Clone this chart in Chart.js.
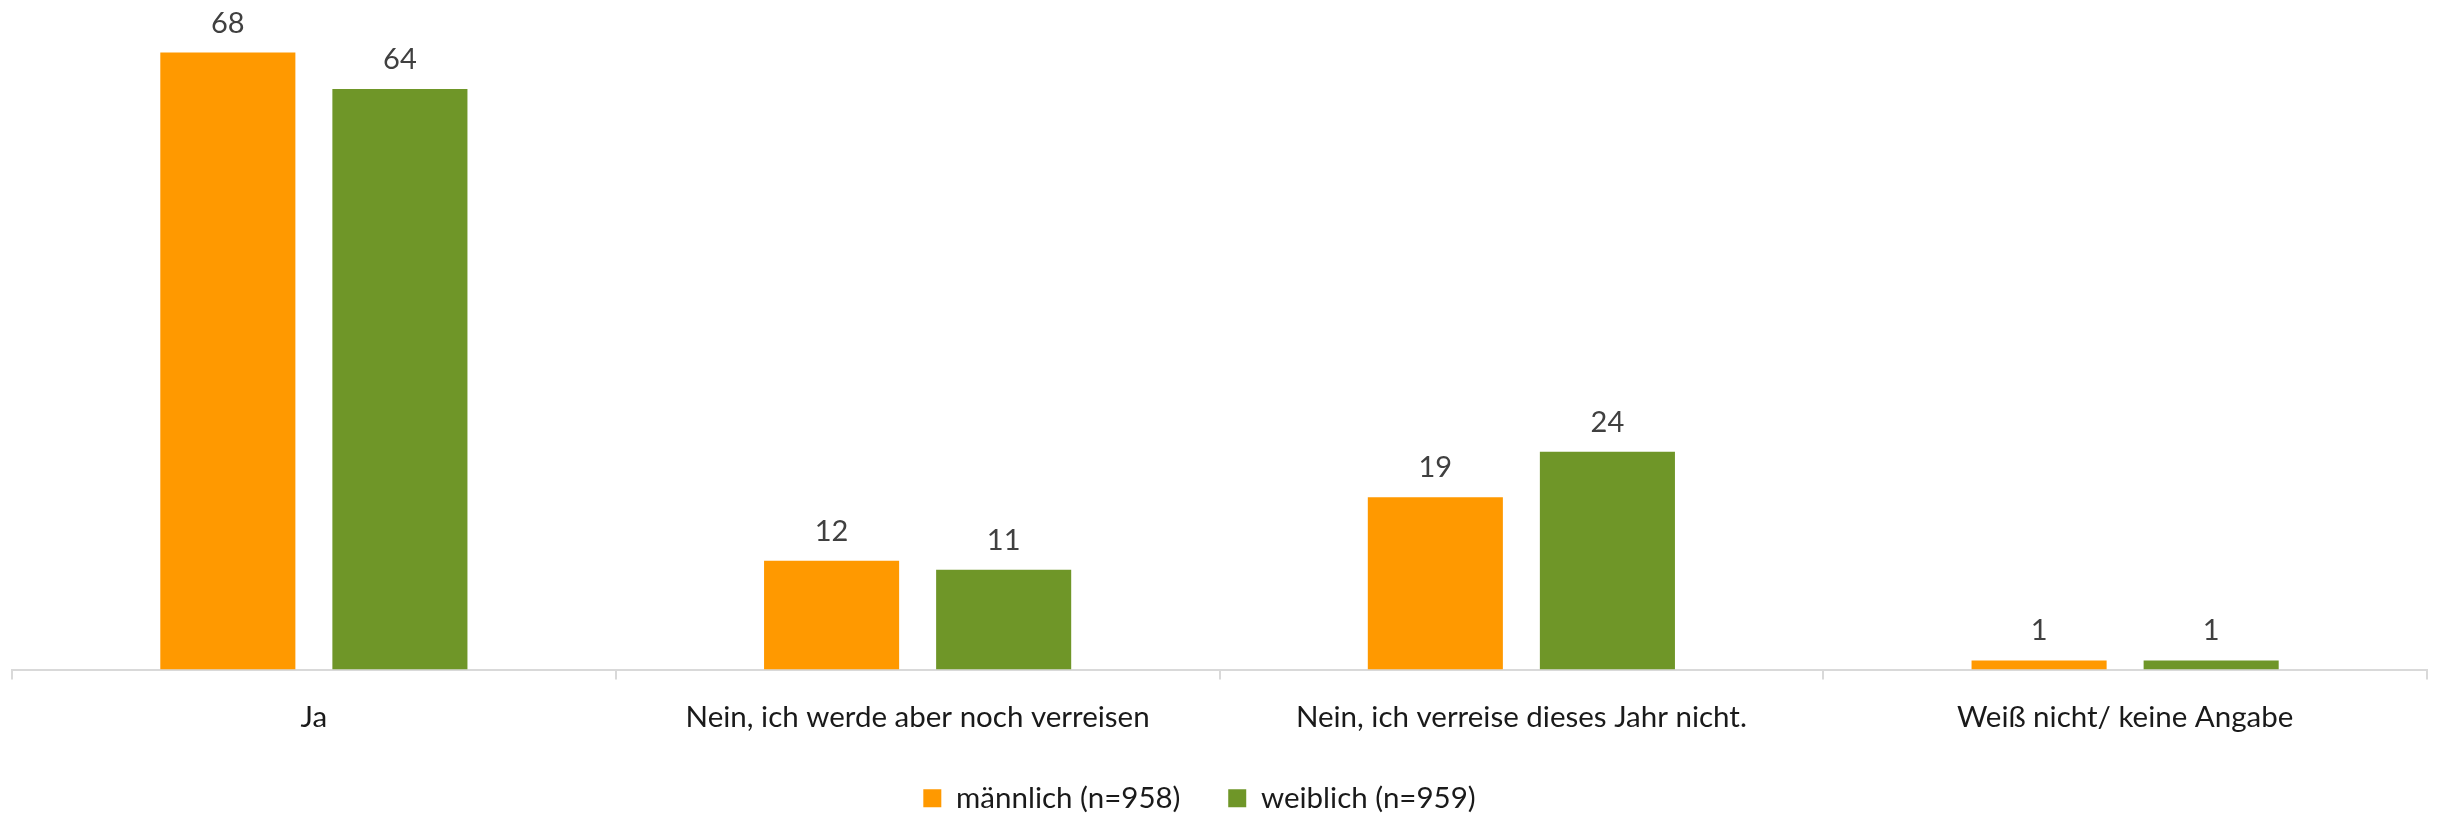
<!DOCTYPE html>
<html>
<head>
<meta charset="utf-8">
<script src="https://cdn.jsdelivr.net/npm/chart.js@4"></script>
<style>
  html, body { margin: 0; padding: 0; background: #fff; }
  #wrap { width: 2437px; height: 814px; }
</style>
</head>
<body>
<div id="wrap"><canvas id="chart" width="2437" height="814"></canvas></div>
<script>
const categories = ["Ja", "Nein, ich werde aber noch verreisen", "Nein, ich verreise dieses Jahr nicht.", "Weiß nicht/ keine Angabe"];
const seriesNames = ["männlich (n=958)", "weiblich (n=959)"];
const maennlich = [68, 12, 19, 1];
const weiblich = [64, 11, 24, 1];

const fontFamily = "Lato, 'Open Sans', sans-serif";

// value labels above each bar
const valueLabels = {
    id: "valueLabels",
    afterDatasetsDraw(chart) {
        const ctx = chart.ctx;
        ctx.save();
        ctx.font = "29px " + fontFamily;
        ctx.fillStyle = "#404040";
        ctx.textAlign = "center";
        ctx.textBaseline = "alphabetic";
        chart.data.datasets.forEach((ds, i) => {
            chart.getDatasetMeta(i).data.forEach((bar, j) => {
                ctx.fillText(String(ds.data[j]), bar.x, bar.y - 20);
            });
        });
        ctx.restore();
    }
};

// legend in the original sits a bit left of centre
const legendShift = {
    id: "legendShift",
    afterLayout(chart) {
        chart.legend.left -= 20;
        chart.legend.right -= 20;
    }
};

new Chart(document.getElementById("chart").getContext("2d"), {
    type: "bar",
    data: {
        labels: categories,
        datasets: [
            { label: seriesNames[0], data: maennlich, backgroundColor: "#FF9900" },
            { label: seriesNames[1], data: weiblich, backgroundColor: "#6F9628" }
        ]
    },
    options: {
        responsive: false,
        animation: false,
        categoryPercentage: 0.57,
        barPercentage: 0.785,
        layout: { padding: { left: 12, right: 10, top: 0, bottom: -9 } },
        plugins: {
            tooltip: { enabled: false },
            legend: {
                position: "bottom",
                labels: {
                    font: { family: fontFamily, size: 29.5 },
                    color: "#1a1a1a",
                    boxWidth: 18,
                    boxHeight: 18,
                    padding: 10,
                    // wider gap between the two entries without a taller legend
                    generateLabels(chart) {
                        const items = Chart.defaults.plugins.legend.labels.generateLabels(chart);
                        items.forEach((it, i) => {
                            if (i < items.length - 1) it.text = it.text + "     ";
                        });
                        return items;
                    }
                }
            }
        },
        scales: {
            x: {
                afterFit(scale) { scale.height = 104; },
                border: { color: "#D9D9D9", width: 2 },
                grid: {
                    drawOnChartArea: false,
                    drawTicks: true,
                    tickLength: 10,
                    tickColor: "#D9D9D9",
                    lineWidth: 2
                },
                ticks: {
                    font: { family: fontFamily, size: 29.5 },
                    color: "#1a1a1a",
                    padding: 20,
                    maxRotation: 0,
                    autoSkip: false
                }
            },
            y: {
                display: false,
                min: 0,
                max: 73.8
            }
        }
    },
    plugins: [valueLabels, legendShift]
});
</script>
</body>
</html>
